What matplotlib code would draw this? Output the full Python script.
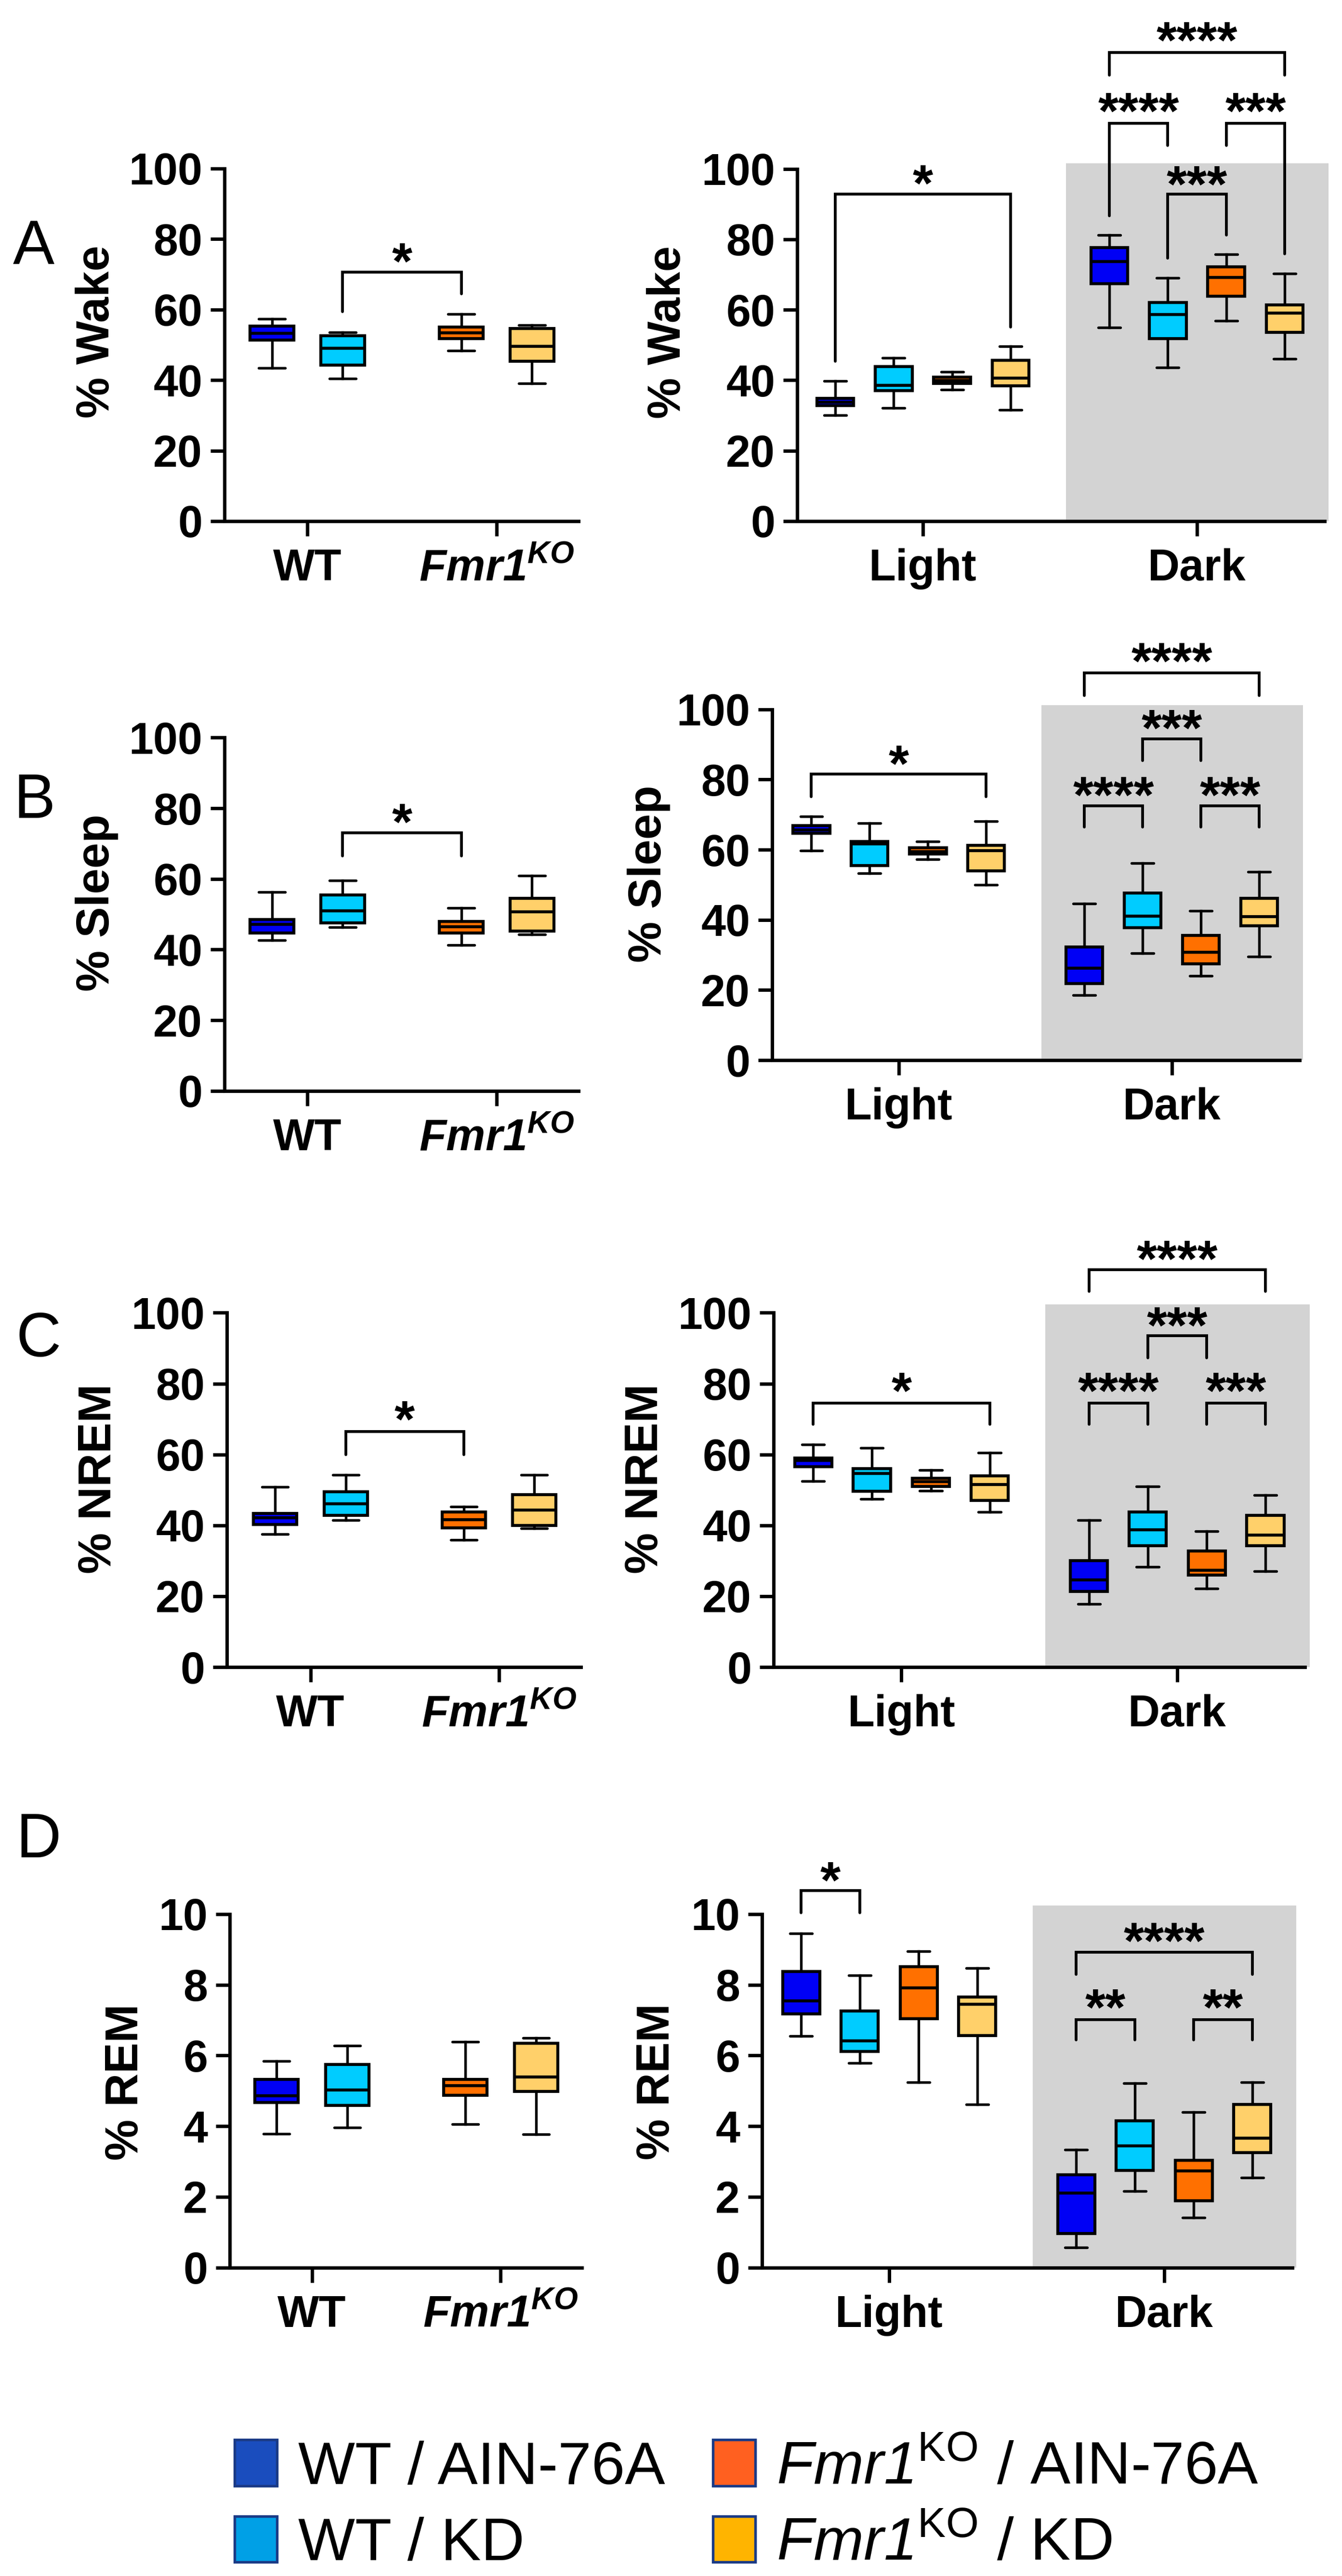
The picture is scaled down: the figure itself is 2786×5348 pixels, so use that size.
import matplotlib.pyplot as plt
from matplotlib.patches import Patch

plt.rcParams['font.family'] = ['Liberation Sans', 'DejaVu Sans']
plt.rcParams['mathtext.fontset'] = 'custom'
plt.rcParams['mathtext.rm'] = 'Liberation Sans'
plt.rcParams['mathtext.sf'] = 'Liberation Sans:italic'
plt.rcParams['mathtext.bf'] = 'Liberation Sans:italic:bold'

# box stats: (whisker low, Q1, median, Q3, whisker high)
# order: WT/AIN-76A, WT/KD, Fmr1KO/AIN-76A, Fmr1KO/KD
wake_genotype = [(43.4, 51.4, 53.3, 55.3, 57.4), (40.4, 44.3, 49.1, 52.6, 53.6),
                 (48.3, 51.8, 53.4, 55.1, 58.7), (39.1, 45.4, 49.6, 54.6, 55.6)]
wake_light = [(30.1, 32.8, 33.8, 34.8, 39.8), (32.1, 37.1, 38.6, 43.9, 46.3),
              (37.3, 39.1, 39.9, 40.8, 42.4), (31.6, 38.4, 40.6, 45.6, 49.6)]
wake_dark = [(54.9, 67.4, 73.7, 77.7, 81.2), (43.6, 51.8, 58.6, 62.0, 69.0),
             (56.9, 63.9, 69.2, 72.2, 75.7), (46.1, 53.6, 59.1, 61.4, 70.2)]

sleep_genotype = [(42.7, 44.7, 47.2, 48.5, 56.3), (46.3, 47.5, 51.0, 55.5, 59.5),
                  (41.3, 44.7, 46.5, 48.0, 51.8), (44.3, 45.3, 50.7, 54.5, 60.9)]
sleep_light = [(59.7, 64.7, 65.7, 66.8, 69.5), (53.3, 55.5, 61.7, 62.4, 67.6),
               (57.2, 58.7, 59.4, 60.5, 62.4), (50.0, 53.9, 59.7, 61.2, 68.1)]
sleep_dark = [(18.6, 21.8, 26.2, 32.3, 44.6), (30.5, 37.8, 41.1, 47.6, 56.2),
              (24.0, 27.5, 30.7, 35.5, 42.6), (29.5, 38.3, 40.9, 46.1, 53.7)]

nrem_genotype = [(37.5, 40.3, 42.1, 43.3, 50.8), (41.5, 42.8, 46.1, 49.5, 54.2),
                 (35.9, 39.3, 41.6, 43.8, 45.3), (39.1, 40.0, 44.3, 48.7, 54.3)]
nrem_light = [(52.5, 56.5, 58.3, 59.0, 62.8), (47.5, 49.6, 54.6, 56.0, 61.8),
              (49.8, 51.0, 52.3, 53.3, 55.6), (43.8, 47.0, 51.5, 54.0, 60.5)]
nrem_dark = [(17.8, 21.3, 24.6, 30.1, 41.5), (28.3, 34.3, 38.8, 43.8, 51.0),
             (22.1, 26.0, 27.3, 32.8, 38.3), (27.0, 34.3, 37.3, 42.8, 48.5)]

rem_genotype = [(3.79, 4.67, 4.86, 5.33, 5.84), (3.96, 4.59, 5.02, 5.75, 6.28),
                (4.06, 4.88, 5.15, 5.33, 6.39), (3.77, 4.99, 5.40, 6.35, 6.50)]
rem_light = [(6.55, 7.18, 7.55, 8.38, 9.46), (5.79, 6.11, 6.41, 7.26, 8.27),
             (5.24, 7.04, 7.91, 8.51, 8.95), (4.62, 6.57, 7.45, 7.66, 8.48)]
rem_dark = [(0.57, 0.96, 2.11, 2.62, 3.33), (2.16, 2.75, 3.44, 4.15, 5.21),
            (1.42, 1.89, 2.73, 3.04, 4.40), (2.55, 3.26, 3.66, 4.61, 5.24)]

genotype_labels = ['WT', r'$\mathbf{Fmr1}^{\mathbf{KO}}$']
phase_labels = ['Light', 'Dark']
legend_labels = ['WT / AIN-76A', 'WT / KD',
                 r'$\mathsf{Fmr1}^{\mathrm{KO}}$ / AIN-76A', r'$\mathsf{Fmr1}^{\mathrm{KO}}$ / KD']

box_colors = ['#0000F5', '#00CCFF', '#FF7000', '#FFD06A']
legend_colors = ['#1A4DBE', '#00A0E6', '#FF6020', '#FFB400']

# figure in pixels
W, H = 2786, 5348
fig = plt.figure(figsize=(W / 300, H / 300), dpi=300)


def fx(px):
    return px / W


def fy(py):
    return 1 - py / H


def make_axes(x0, t0, t1, x1, ytop, ybot, ymax):
    ax = fig.add_axes([fx(x0), fy(ybot), fx(x1 - x0), (ybot - ytop) / H])
    sp = t1 - t0
    ax.set_xlim((x0 - t0) / sp, (x1 - t0) / sp)
    ax.set_ylim(0, ymax)
    for s in ['top', 'right']:
        ax.spines[s].set_visible(False)
    for s in ['left', 'bottom']:
        ax.spines[s].set_linewidth(1.7)
    ax.tick_params(axis='y', length=7, width=1.7, pad=4, labelsize=22)
    ax.tick_params(axis='x', length=7.5, width=1.7, pad=6, labelsize=22)
    ax.set_yticks([ymax * i / 5 for i in range(6)])
    ax.set_yticklabels([f'{ymax * i / 5:g}' for i in range(6)], fontweight='bold')
    return ax


def draw_boxes(ax, data, positions, width):
    stats = []
    for lo, q1, med, q3, hi in data:
        stats.append(dict(whislo=lo, q1=q1, med=med, q3=q3, whishi=hi))
    bp = ax.bxp(stats, positions=positions, widths=width, capwidths=width * 0.6,
                patch_artist=True, showfliers=False, manage_ticks=False,
                boxprops=dict(linewidth=1.5, edgecolor='black'),
                whiskerprops=dict(linewidth=1.3, color='black'),
                capprops=dict(linewidth=1.3, color='black', solid_capstyle='round'),
                medianprops=dict(linewidth=1.5, color='black'))
    for patch, c in zip(bp['boxes'], box_colors):
        patch.set_facecolor(c)
        patch.set_zorder(3)
    for line in bp['medians']:
        line.set_zorder(4)


def bracket(ax, xa, xb, label, ya, yb, ytop, ytext):
    ax.plot([xa, xa, xb, xb], [ya, ytop, ytop, yb], color='black', lw=1.4,
            clip_on=False, solid_joinstyle='miter', solid_capstyle='round')
    fs = 26
    ax.annotate(label, xy=((xa + xb) / 2, ytext), xytext=(0, -0.56 * fs),
                textcoords='offset points', ha='center', va='baseline',
                fontsize=fs, fontweight='bold', annotation_clip=False)


geno_pos = [-0.187, 0.187, 0.813, 1.187]
phase_off = [-0.32, -0.107, 0.107, 0.32]

rows = [
    ('% Wake', wake_genotype, wake_light, wake_dark, 100,
     (466, 638, 1031, 1201, 350, 1082), (1655, 1916, 2485, 2750, 350.6, 1081.8), 1.016,
     (201, 689), (1387, 689.5), ('A', 70, 515),
     [(1, 2, '*', 59.4, 64.5, 70.6, 77.0)],
     [(0, 0, 3, '*', 45.4, 55.1, 92.9, 99.2),
      (1, 1, 2, '***', 74.7, 81.2, 92.9, 98.9),
      (1, 0, 1, '****', 86.7, 106.7, 112.9, 119.8),
      (1, 2, 3, '***', 106.7, 75.9, 112.9, 119.8),
      (1, 0, 3, '****', 126.6, 126.6, 133.0, 139.8)]),
    ('% Sleep', sleep_genotype, sleep_light, sleep_dark, 100,
     (466, 638, 1031, 1201, 1531.4, 2264.8), (1603, 1865.8, 2432.5, 2697.8, 1472.7, 2201), 1.012,
     (201, 1874), (1347, 1814), ('B', 71, 1665),
     [(1, 2, '*', 66.5, 66.5, 73.0, 79.5)],
     [(0, 0, 3, '*', 75.1, 75.1, 81.6, 87.9),
      (1, 0, 1, '****', 66.5, 66.5, 72.5, 78.9),
      (1, 2, 3, '***', 66.5, 66.5, 72.5, 78.9),
      (1, 1, 2, '***', 85.4, 85.4, 91.6, 98.0),
      (1, 0, 3, '****', 104.0, 104.0, 110.4, 117.1)]),
    ('% NREM', nrem_genotype, nrem_light, nrem_dark, 100,
     (471, 644.6, 1035.7, 1206, 2725.4, 3461), (1606, 1871.4, 2443.9, 2709, 2725.4, 3461), 1.023,
     (205, 3070), (1340, 3070), ('C', 80, 2782),
     [(1, 2, '*', 60.0, 60.0, 66.5, 73.3)],
     [(0, 0, 3, '*', 68.5, 68.5, 74.5, 81.3),
      (1, 0, 1, '****', 68.5, 68.5, 74.5, 81.3),
      (1, 2, 3, '***', 68.5, 68.5, 74.5, 81.3),
      (1, 1, 2, '***', 87.3, 87.3, 93.5, 99.8),
      (1, 0, 3, '****', 106.1, 106.1, 112.1, 118.5)]),
    ('% REM', rem_genotype, rem_light, rem_dark, 10,
     (477, 647.5, 1039.3, 1208, 3974, 4707.7), (1582, 1846, 2417, 2683, 3974, 4707.7), 1.024,
     (261, 4323), (1364, 4322), ('D', 80, 3822),
     [],
     [(0, 0, 1, '*', 10.04, 10.04, 10.67, 11.29),
      (1, 0, 3, '****', 8.29, 8.29, 8.92, 9.57),
      (1, 0, 1, '**', 6.44, 6.44, 7.02, 7.69),
      (1, 2, 3, '**', 6.44, 6.44, 7.02, 7.69)]),
]

for (ylab, geno, light, dark, ymax, lbox, rbox, gray_top, lpos, rpos, letter,
     lsig, rsig) in rows:
    # genotype panel
    ax = make_axes(*lbox, ymax)
    draw_boxes(ax, geno, geno_pos, 0.23)
    ax.set_xticks([0, 1])
    ax.set_xticklabels(genotype_labels, fontweight='bold')
    for i, j, lab, ya, yb, yt, ytx in lsig:
        bracket(ax, geno_pos[i], geno_pos[j], lab, ya, yb, yt, ytx)
    fig.text(fx(lpos[0]), fy(lpos[1]), ylab, rotation=90, ha='center', va='center',
             fontsize=23, fontweight='bold')

    # light / dark panel
    ax = make_axes(*rbox, ymax)
    ax.axvspan(0.522, 1.48, ymin=0, ymax=gray_top, color='#D3D3D3', lw=0,
               zorder=0, clip_on=False)
    draw_boxes(ax, light, [o for o in phase_off], 0.135)
    draw_boxes(ax, dark, [1 + o for o in phase_off], 0.135)
    ax.set_xticks([0, 1])
    ax.set_xticklabels(phase_labels, fontweight='bold')
    for ph, i, j, lab, ya, yb, yt, ytx in rsig:
        bracket(ax, ph + phase_off[i], ph + phase_off[j], lab, ya, yb, yt, ytx)
    fig.text(fx(rpos[0]), fy(rpos[1]), ylab, rotation=90, ha='center', va='center',
             fontsize=23, fontweight='bold')

    fig.text(fx(letter[1]), fy(letter[2]), letter[0], ha='center', va='center',
             fontsize=31)

handles = [Patch(facecolor=c, edgecolor='#1A3A86', linewidth=1.3) for c in legend_colors]
fig.legend(handles, legend_labels, ncol=2, loc='center',
           bbox_to_anchor=(fx(1550), fy(5203)), frameon=False, fontsize=30,
           handlelength=0.7, handleheight=0.8, handletextpad=0.35,
           columnspacing=0.8, labelspacing=0.33, borderpad=0.2)

fig.savefig('out.png', dpi=300)
